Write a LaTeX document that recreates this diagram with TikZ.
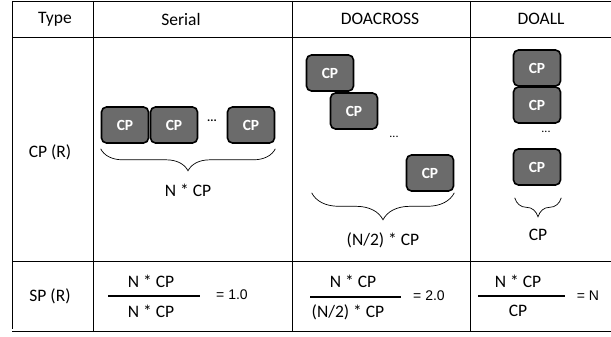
\documentclass[tikz,border=0pt]{standalone}
\usepackage{fontspec}
\setmainfont{Carlito}
\newfontfamily\arialfont{Liberation Sans}
\usetikzlibrary{positioning, decorations.pathreplacing}
\tikzset{
	cpbox/.style={draw=black, line width=1.6pt, fill=black!58, rounded corners=5pt,
		minimum width=47pt, minimum height=36pt, inner sep=0pt,
		font=\fontsize{15.5}{17}\selectfont\bfseries\color{white}}
}
\tikzset{
	celltext/.style={font=\fontsize{17.5}{20}\selectfont}
}
\tikzset{
	cpbrace/.style={decorate, decoration={brace, mirror, amplitude=#1}, line width=0.7pt},
	cpbrace/.default=20pt
}
\tikzset{
	fracbar/.style={line width=2.6pt}
}
\newcommand{\eqtext}[1]{{\arialfont\fontsize{14}{16}\selectfont #1}}

\begin{document}
\begin{tikzpicture}[x=1pt, y=-1pt]
      \useasboundingbox (0,0) rectangle (611,337);
      % table grid
      \draw[line width=0.8pt] (12,1) -- (611,1);
      \draw[line width=0.8pt] (12,37) -- (611,37);
      \draw[line width=0.8pt] (12,261) -- (611,261);
      \draw[line width=0.8pt] (12,331) -- (611,331);
      \draw[line width=0.8pt] (12,1) -- (12,329);
      \draw[line width=0.8pt] (93,1) -- (93,331);
      \draw[line width=0.8pt] (292,1) -- (292,331);
      \draw[line width=0.8pt] (470,1) -- (470,331);
      % header
      \node[celltext] (htype) at (55,19) {Type};
      \node[celltext] (hser) at (181,19) {Serial};
      \node[celltext] (hdoa) at (380,19) {DOACROSS};
      \node[celltext] (hdoall) at (541,19) {DOALL};
      \node[celltext] (hcp) at (50,152) {CP (R)};
      \node[celltext] (hsp) at (50,296) {SP (R)};
      % serial
      \node[cpbox] (s1) at (125,125) {CP};
      \node[cpbox] (s2) at (174,125) {CP};
      \node[font=\large\bfseries] (sdots) at (212,121) {...};
      \node[cpbox] (s3) at (251,125) {CP};
      \draw[cpbrace=22pt] ([yshift=-5pt]s1.south west) -- ([yshift=-5pt]s3.south east)
        node[midway, below=32pt, celltext] (slab) {N * CP};
      % doacross
      \node[cpbox] (a1) at (330,73) {CP};
      \node[cpbox] (a2) at (354,111) {CP};
      \node[font=\large] (adots) at (394,137) {...};
      \node[cpbox] (a3) at (430,173) {CP};
      \draw[cpbrace=27pt] ([xshift=6pt, yshift=-1pt]a1.west |- a3.south) -- ([yshift=-1pt]a3.south east)
        node[midway, below=36pt, celltext] (alab) {(N/2) * CP};
      % doall
      \node[cpbox] (d1) at (537,68) {CP};
      \node[cpbox] (d2) at (537,105) {CP};
      \node[font=\large] (ddots) at (546,132) {...};
      \node[cpbox] (d3) at (537,167) {CP};
      \draw[cpbrace=19pt] ([xshift=2pt, yshift=-12pt]d3.south west) -- ([yshift=-12pt]d3.south east)
        node[midway, below=28pt, celltext] (dlab) {CP};
      % speedup row
      \draw[fracbar] (108,296) -- (200,296);
      \node[celltext] (snum) at (151,281) {N * CP};
      \node[celltext] (sden) at (151,311) {N * CP};
      \node (seq) at (232,295) {\eqtext{= 1.0}};
      \draw[fracbar] (310,297) -- (401,297);
      \node[celltext] (anum) at (353,281) {N * CP};
      \node[celltext] (aden) at (348,312) {(N/2) * CP};
      \node (aeq) at (429,296) {\eqtext{= 2.0}};
      \draw[fracbar] (478,296) -- (565,296);
      \node[celltext] (dnum) at (518,281) {N * CP};
      \node[celltext] (dden) at (518,311) {CP};
      \node (deq) at (588,296) {\eqtext{= N}};
\end{tikzpicture}
\end{document}
